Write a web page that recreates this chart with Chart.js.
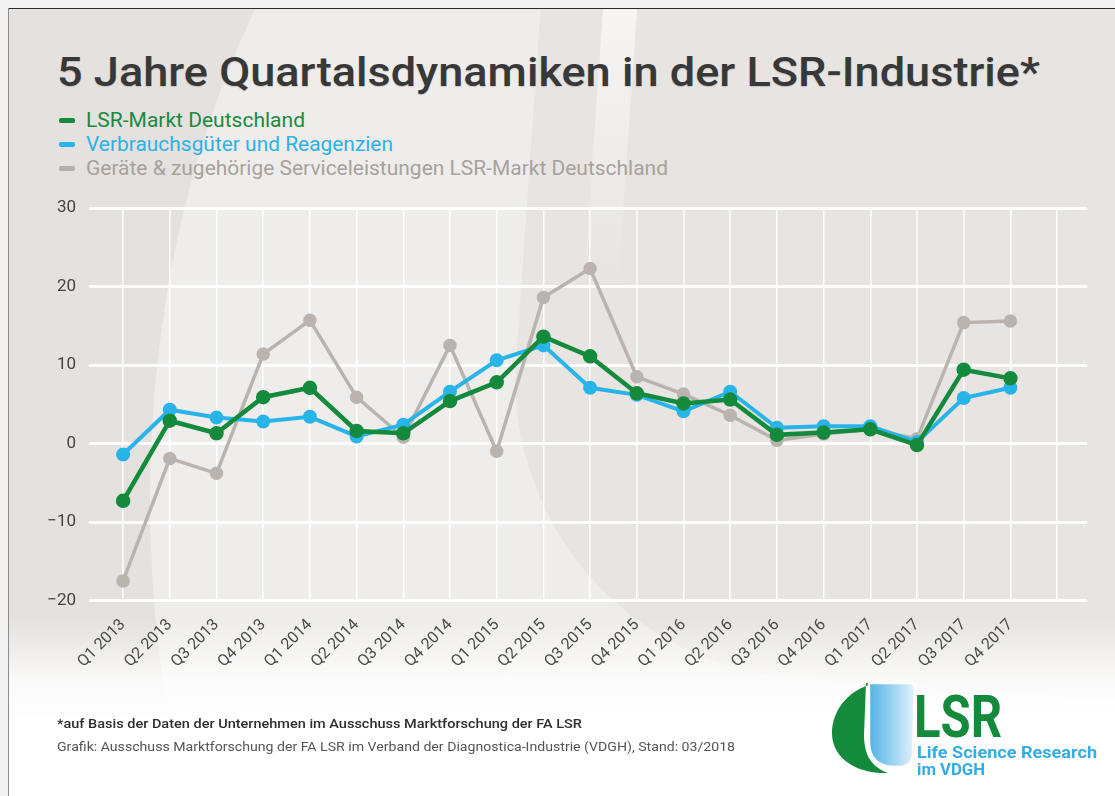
<!DOCTYPE html>
<html lang="de">
<head>
<meta charset="utf-8">
<title>5 Jahre Quartalsdynamiken in der LSR-Industrie</title>
<script src="https://cdn.jsdelivr.net/npm/chart.js@4.4.1/dist/chart.umd.min.js"></script>
<style>
  html, body { margin: 0; padding: 0; }
  body { width: 1115px; height: 796px; overflow: hidden; position: relative; background: #f3f3f3; font-family: Roboto, "Noto Sans", sans-serif; }
  #bg { position: absolute; left: 9px; top: 9px; width: 1106px; height: 787px; overflow: hidden; background: #e4e1de; }
  #bg div { position: absolute; }
  .lineTop { position: absolute; left: 8px; top: 8px; width: 1107px; height: 1px; background: #2b2b2b; }
  .lineLeft { position: absolute; left: 8px; top: 8px; width: 1px; height: 788px; background: #8c8c8c; }
  .txt { position: absolute; white-space: nowrap; line-height: 1; transform-origin: 0 0; }
  .dash { position: absolute; width: 16px; height: 5px; border-radius: 2px; left: 59px; }
  canvas { position: absolute; left: 0; top: 0; }
</style>
</head>
<body>
<div id="bg">
  <div style="left:141px;top:-309px;width:1000px;height:1600px;border-radius:50%;background:#efedeb;"></div>
  <div style="left:540px;top:-120px;width:720px;height:770px;border-radius:0 0 0 300px;background:#e7e4e1;transform:rotate(4deg);transform-origin:0 0;"></div>
  <div style="left:585px;top:-20px;width:34px;height:300px;background:linear-gradient(to bottom, rgba(250,249,248,0.9), rgba(250,249,248,0));transform:rotate(4deg);"></div>
  <div style="left:0;top:610px;width:1106px;height:190px;background:linear-gradient(to bottom, rgba(255,255,255,0) 0px, rgba(255,255,255,0.8) 60px, #ffffff 100px);"></div>
</div>
<div class="lineTop"></div>
<div class="lineLeft"></div>

<div class="txt" id="title" style="left:57px;top:53px;font-size:40px;font-weight:500;color:#383838;text-shadow:0 1px 1px rgba(0,0,0,0.15);">5 Jahre Quartalsdynamiken in der LSR-Industrie*</div>

<div class="dash" style="top:118px;background:#138a3c;"></div>
<div class="txt" id="leg1" style="left:86px;top:110px;font-size:21px;color:#1a8a3e;">LSR-Markt Deutschland</div>
<div class="dash" style="top:142px;background:#29b4e9;"></div>
<div class="txt" id="leg2" style="left:86px;top:134px;font-size:21px;color:#2cb1e8;">Verbrauchsgüter und Reagenzien</div>
<div class="dash" style="top:166px;background:#b5aea9;"></div>
<div class="txt" id="leg3" style="left:86px;top:158px;font-size:21px;color:#a8a19c;">Geräte &amp; zugehörige Serviceleistungen LSR-Markt Deutschland</div>

<canvas id="chart" width="1115" height="796"></canvas>

<div class="txt" id="foot1" style="left:57px;top:717px;font-size:13px;font-weight:500;color:#2e2e2e;">*auf Basis der Daten der Unternehmen im Ausschuss Marktforschung der FA LSR</div>
<div class="txt" id="foot2" style="left:57px;top:740px;font-size:13px;color:#555555;">Grafik: Ausschuss Marktforschung der FA LSR im Verband der Diagnostica-Industrie (VDGH), Stand: 03/2018</div>

<svg style="position:absolute;left:820px;top:670px;" width="100" height="115" viewBox="0 0 100 115">
  <defs>
    <linearGradient id="blueGrad" x1="0" y1="0" x2="1" y2="0">
      <stop offset="0" stop-color="#4fb2e6"/>
      <stop offset="1" stop-color="#e4f3fb"/>
    </linearGradient>
  </defs>
  <path d="M60 13 C30 16 12 40 12 63 C12 86 32 101 60 103 L68 103 C50 96 44 84 44 64 L46 13 Z" fill="#138a3c"/>
  <path d="M49 13 L90 13 Q95 13 95 19 L93 84 Q92 97 78 97 L74 97 Q49 96 49 72 Z" fill="url(#blueGrad)" stroke="#ffffff" stroke-width="2.5"/>
</svg>
<div class="txt" id="logo1" style="left:914px;top:687px;font-size:60px;font-weight:700;color:#138a3c;">LSR</div>
<div class="txt" id="logo2" style="left:917px;top:744px;font-size:17px;font-weight:700;color:#35ace3;">Life Science Research</div>
<div class="txt" id="logo3" style="left:917px;top:761px;font-size:17px;font-weight:700;color:#35ace3;">im VDGH</div>

<script>
// quarters on the x axis
const quarters = ['Q1 2013', 'Q2 2013', 'Q3 2013', 'Q4 2013', 'Q1 2014', 'Q2 2014', 'Q3 2014', 'Q4 2014',
  'Q1 2015', 'Q2 2015', 'Q3 2015', 'Q4 2015', 'Q1 2016', 'Q2 2016', 'Q3 2016', 'Q4 2016',
  'Q1 2017', 'Q2 2017', 'Q3 2017', 'Q4 2017'];

// growth in % per quarter
const lsrMarkt = [-7.3, 2.9, 1.3, 5.9, 7.1, 1.6, 1.3, 5.4, 7.8, 13.6, 11.1, 6.4, 5.1, 5.6, 1.1, 1.4, 1.8, -0.2, 9.4, 8.3];
const verbrauchsgueter = [-1.4, 4.3, 3.3, 2.8, 3.4, 0.9, 2.4, 6.6, 10.6, 12.5, 7.1, 6.2, 4.1, 6.6, 2.0, 2.2, 2.2, 0.2, 5.8, 7.1];
const geraete = [-17.5, -1.9, -3.8, 11.4, 15.7, 5.9, 0.8, 12.5, -1.0, 18.6, 22.3, 8.5, 6.3, 3.6, 0.4, 1.2, 1.8, 0.6, 15.4, 15.6];

const yTicks = [-20, -10, 0, 10, 20, 30];

const toPoints = arr => arr.map((v, i) => ({ x: i, y: v }));

// stretch/squeeze text to the width of the condensed font in the original
const fit = (id, w) => {
  const el = document.getElementById(id);
  const cur = el.getBoundingClientRect().width;
  el.style.transform = 'scaleX(' + (w / cur) + ')';
};
fit('title', 983);
fit('leg1', 219);
fit('leg2', 307);
fit('leg3', 582);
fit('foot1', 525);
fit('foot2', 678);
fit('logo1', 88);
fit('logo2', 180);
fit('logo3', 68);

const ctx = document.getElementById('chart').getContext('2d');
new Chart(ctx, {
  type: 'line',
  data: {
    datasets: [
      {
        label: 'LSR-Markt Deutschland',
        data: toPoints(lsrMarkt),
        borderColor: '#138a3c',
        backgroundColor: '#138a3c',
        borderWidth: 4.5,
        pointRadius: 5
      },
      {
        label: 'Verbrauchsgüter und Reagenzien',
        data: toPoints(verbrauchsgueter),
        borderColor: '#29b4e9',
        backgroundColor: '#29b4e9',
        borderWidth: 4,
        pointRadius: 5
      },
      {
        label: 'Geräte & zugehörige Serviceleistungen LSR-Markt Deutschland',
        data: toPoints(geraete),
        borderColor: '#bab3ae',
        backgroundColor: '#bab3ae',
        borderWidth: 3.5,
        pointRadius: 5
      }
    ]
  },
  options: {
    responsive: false,
    animation: false,
    devicePixelRatio: 1,
    layout: { padding: { left: 0, top: 208, right: 28, bottom: 0 } },
    plugins: {
      legend: { display: false },
      title: { display: false },
      tooltip: { enabled: false }
    },
    elements: { line: { tension: 0 } },
    scales: {
      x: {
        type: 'linear',
        min: -0.73,
        max: 20.64,
        afterBuildTicks: s => { s.ticks = quarters.concat(['']).map((_, i) => ({ value: i })); },
        afterFit: s => { s.height = 796 - 208 - 392.5; },
        ticks: {
          autoSkip: false,
          maxRotation: 45,
          minRotation: 45,
          padding: 15,
          color: '#4a4a4a',
          font: { family: 'Roboto', size: 16 },
          callback: v => quarters[v] || ''
        },
        grid: { color: '#ffffff', lineWidth: 1.5, drawTicks: false },
        border: { display: false }
      },
      y: {
        min: -20,
        max: 30,
        afterBuildTicks: s => { s.ticks = yTicks.map(v => ({ value: v })); },
        afterFit: s => { s.width = 89; },
        ticks: {
          padding: 13,
          color: '#444444',
          font: { family: 'Roboto', size: 17 },
          callback: v => (v < 0 ? '\u2212' + Math.abs(v) : String(v))
        },
        grid: { color: '#ffffff', lineWidth: 3, drawTicks: false },
        border: { display: false }
      }
    }
  }
});
</script>
</body>
</html>
